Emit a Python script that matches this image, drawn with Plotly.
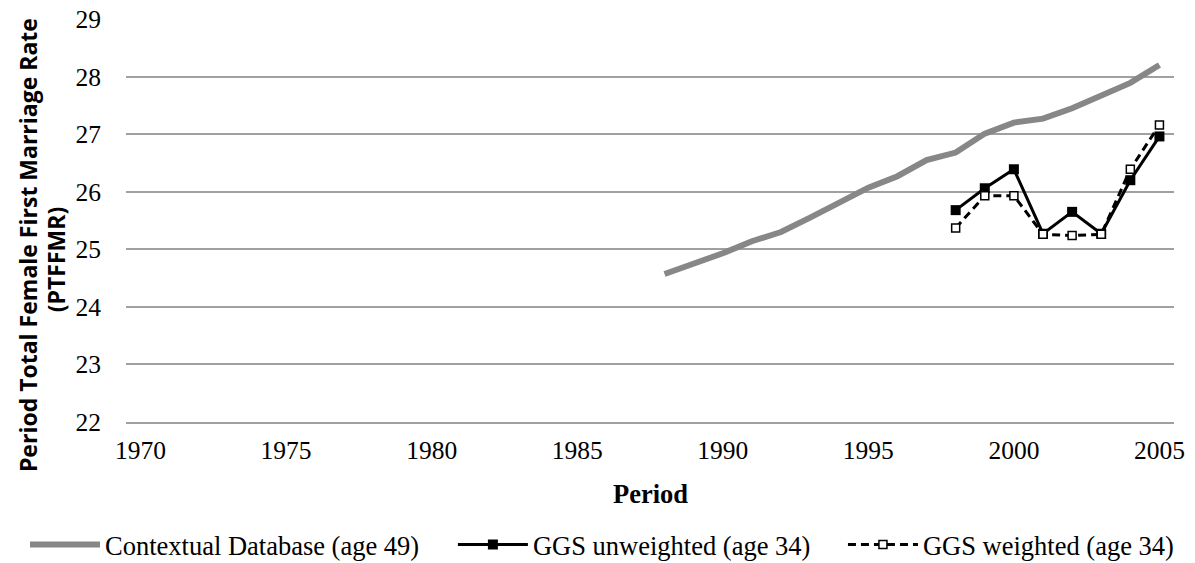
import plotly.graph_objects as go

years_ctx = list(range(1988, 2006))
ctx = [24.57, 24.74, 24.93, 25.14, 25.30, 25.55, 25.80, 26.07, 26.27, 26.55, 26.68,
       27.01, 27.20, 27.27, 27.45, 27.66, 27.89, 28.20]
years_ggs = list(range(1998, 2006))
unweighted = [25.68, 26.06, 26.39, 25.27, 25.65, 25.27, 26.20, 26.96]
weighted = [25.37, 25.93, 25.93, 25.26, 25.24, 25.26, 26.39, 27.16]
x_ticks = [1970, 1975, 1980, 1985, 1990, 1995, 2000, 2005]
y_ticks = [22, 23, 24, 25, 26, 27, 28, 29]

serif = "Liberation Serif, Times New Roman, serif"
fig = go.Figure()
fig.add_trace(go.Scatter(x=years_ctx, y=ctx, mode="lines", name="Contextual Database (age 49)",
                         line=dict(color="#878787", width=6), legend="legend"))
fig.add_trace(go.Scatter(x=years_ggs, y=unweighted, mode="lines+markers", name="GGS unweighted (age 34)",
                         line=dict(color="black", width=3),
                         marker=dict(symbol="square", size=10, color="black"), legend="legend2"))
fig.add_trace(go.Scatter(x=years_ggs, y=weighted, mode="lines+markers", name="GGS weighted (age 34)",
                         line=dict(color="black", width=3, dash="8px,5px"),
                         marker=dict(symbol="square", size=8, color="white",
                                     line=dict(color="black", width=1.5)), legend="legend3"))

leg_common = dict(orientation="h", xref="container", xanchor="left", y=-0.245, yanchor="top",
                  font=dict(family=serif, size=26.5), itemwidth=70, bgcolor="rgba(0,0,0,0)",
                  visible=True)
fig.update_layout(
    width=1195, height=563,
    showlegend=True,
    margin=dict(l=126, r=21, t=19, b=141, autoexpand=False),
    paper_bgcolor="white", plot_bgcolor="white",
    font=dict(family=serif, size=25.5, color="black"),
    legend=dict(x=0.0209, **leg_common),
    legend2=dict(x=0.379, **leg_common),
    legend3=dict(x=0.7054, **leg_common),
    xaxis=dict(range=[1969.5, 2005.5], tickvals=x_ticks, showgrid=False, zeroline=False,
               showline=True, linecolor="#A0A0A0", linewidth=1.5, ticks="", automargin=False,
               ticklabelstandoff=5, tickfont=dict(family=serif, size=25.5)),
    yaxis=dict(range=[22, 29], tickvals=y_ticks, showgrid=True, gridcolor="#A0A0A0", gridwidth=1.5,
               zeroline=False, showline=False, ticks="", ticklabelstandoff=24, automargin=False,
               tickfont=dict(family=serif, size=25.5)),
)
fig.add_annotation(text="<b>Period</b>", xref="paper", yref="paper", x=0.5, y=-0.179,
                   xanchor="center", yanchor="middle", showarrow=False,
                   font=dict(family=serif, size=26.5))
fig.add_annotation(text="<b>Period Total Female First Marriage Rate</b>",
                   xref="paper", yref="paper", x=-0.0935, y=0.439, xanchor="center", yanchor="middle",
                   textangle=-90, showarrow=False,
                   font=dict(family="Open Sans, sans-serif", size=23))
fig.add_annotation(text="<b>(PTFFMR)</b>",
                   xref="paper", yref="paper", x=-0.0668, y=0.404, xanchor="center", yanchor="middle",
                   textangle=-90, showarrow=False,
                   font=dict(family="Open Sans, sans-serif", size=23))
fig.write_html("out.html", config={"displayModeBar": False},
               post_script="document.body.style.margin='0';")
